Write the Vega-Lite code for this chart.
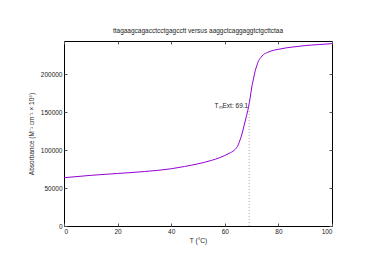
{
  "$schema": "https://vega.github.io/schema/vega-lite/v6.json",
  "width": 268,
  "height": 185,
  "autosize": "none",
  "padding": {"left": 64, "top": 41, "right": 42, "bottom": 38},
  "background": "white",
  "title": {"text": "ttagaagcagacctcctgagcctt versus aaggctcaggaggtctgcttctaa", "fontSize": 6.5, "fontWeight": "normal", "font": "Liberation Sans", "color": "#222", "offset": 6},
  "config": {
    "view": {"stroke": "black", "strokeWidth": 1},
    "axis": {"labelFont": "Liberation Sans", "titleFont": "Liberation Sans", "labelFontSize": 6.5, "titleFontSize": 6.5, "titleFontWeight": "normal", "labelColor": "#222", "titleColor": "#222", "grid": false, "domain": false, "tickColor": "#555", "tickSize": -3, "labelPadding": 5}
  },
  "datasets": {
    "curve": [
      {"T": 0, "A": 63700}, {"T": 10, "A": 66800}, {"T": 20, "A": 69300}, {"T": 30, "A": 71800},
      {"T": 40, "A": 75500}, {"T": 45, "A": 78500}, {"T": 50, "A": 82000}, {"T": 55, "A": 86500},
      {"T": 58, "A": 90000}, {"T": 60, "A": 93000}, {"T": 62, "A": 96500}, {"T": 63, "A": 98500},
      {"T": 64, "A": 101500}, {"T": 65, "A": 107000}, {"T": 65.7, "A": 113500}, {"T": 66.3, "A": 120000},
      {"T": 67.1, "A": 131000}, {"T": 67.9, "A": 142500}, {"T": 68.8, "A": 156000}, {"T": 69.5, "A": 170000},
      {"T": 70.0, "A": 182000}, {"T": 70.7, "A": 194000}, {"T": 71.3, "A": 204000}, {"T": 72.0, "A": 212000},
      {"T": 72.5, "A": 217000}, {"T": 73.4, "A": 222000}, {"T": 74.4, "A": 226000}, {"T": 76, "A": 229000},
      {"T": 77, "A": 230500}, {"T": 80, "A": 233000}, {"T": 83, "A": 235000}, {"T": 87, "A": 236700},
      {"T": 90, "A": 238000}, {"T": 95, "A": 239300}, {"T": 100, "A": 240500}
    ],
    "tm": [{"T": 69.1, "A0": 0, "A1": 155000, "Alabel": 158000, "label": "TₘExt: 69.1"}]
  },
  "resolve": {"axis": {"x": "independent", "y": "independent"}},
  "layer": [
    {
      "data": {"name": "tm"},
      "mark": {"type": "rule", "color": "#888", "strokeWidth": 0.7, "strokeDash": [1, 2]},
      "encoding": {
        "x": {"field": "T", "type": "quantitative", "scale": {"domain": [0, 100], "nice": false}, "axis": {"orient": "top", "labels": false, "title": null, "values": [0, 20, 40, 60, 80, 100]}},
        "y": {"field": "A0", "type": "quantitative", "scale": {"domain": [0, 244000], "nice": false}, "axis": {"orient": "right", "labels": false, "title": null, "values": [0, 50000, 100000, 150000, 200000]}},
        "y2": {"field": "A1"}
      }
    },
    {
      "data": {"name": "curve"},
      "mark": {"type": "line", "color": "#9400d3", "strokeWidth": 1, "interpolate": "monotone"},
      "encoding": {
        "x": {"field": "T", "type": "quantitative", "scale": {"domain": [0, 100], "nice": false}, "axis": {"title": "T (°C)", "values": [0, 20, 40, 60, 80, 100], "titlePadding": 3}},
        "y": {"field": "A", "type": "quantitative", "scale": {"domain": [0, 244000], "nice": false}, "axis": {"title": "Absorbance (M⁻¹ cm⁻¹ × 10⁶)", "values": [0, 50000, 100000, 150000, 200000], "format": "d", "titlePadding": 6}}
      }
    },
    {
      "data": {"name": "tm"},
      "mark": {"type": "text", "align": "right", "baseline": "middle", "dx": -1, "fontSize": 6.5, "font": "Liberation Sans", "color": "#222"},
      "encoding": {
        "x": {"field": "T", "type": "quantitative", "axis": null},
        "y": {"field": "Alabel", "type": "quantitative", "axis": null},
        "text": {"field": "label"}
      }
    }
  ]
}
